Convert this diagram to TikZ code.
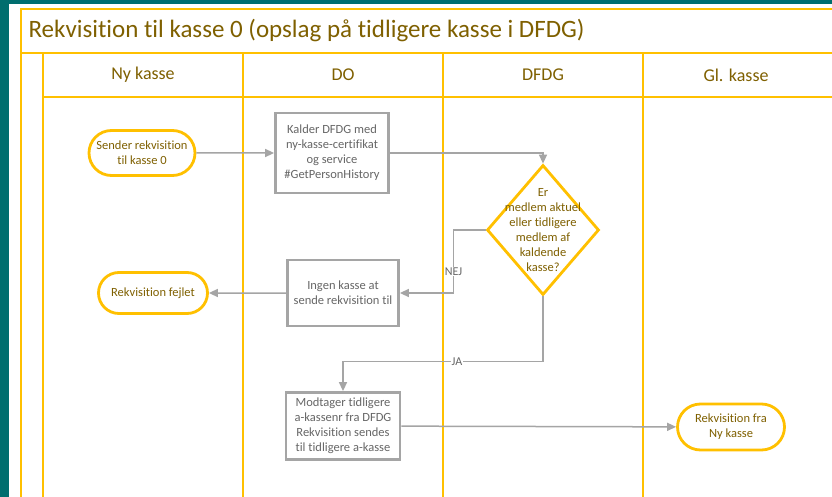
\documentclass[tikz,border=0pt]{standalone}
\usepackage{fontspec}
\setmainfont{Carlito}[Ligatures={NoCommon}]
\usetikzlibrary{arrows.meta,shapes.geometric,shapes.misc}
\usetikzlibrary{calc,positioning}

\definecolor{lane}{HTML}{FFC000}
\definecolor{goldtext}{HTML}{7F6000}
\definecolor{flowgray}{HTML}{A5A5A5}
\definecolor{boxtext}{HTML}{666666}
\definecolor{slideteal}{HTML}{006E6E}

\begin{document}
\begin{tikzpicture}[
    x=1pt, y=-1pt,
    lanes/.style={draw=lane, line width=2.5pt},
    terminal/.style={rounded rectangle, draw=lane, line width=2.8pt, fill=white,
        text=goldtext, align=center, font=\fontsize{12.5}{15}\selectfont, inner sep=2pt},
    task/.style={rectangle, draw=flowgray, line width=2.8pt, fill=white,
        text=boxtext, align=center, font=\fontsize{12.5}{15}\selectfont, inner sep=2pt},
    query/.style={diamond, draw=lane, line width=2.8pt, fill=white,
        minimum width=112pt, minimum height=130pt, inner sep=0pt},
    flow/.style={draw=flowgray, line width=1.5pt, -{Triangle[length=9pt,width=8pt]}},
    tag/.style={fill=white, text=boxtext, inner sep=1pt, font=\fontsize{12}{14}\selectfont},
 ]
    \useasboundingbox (0,0) rectangle (832,497);
    \fill[slideteal] (0,0) rectangle (832,497);
    \fill[white] (9,4) rectangle (832,497);

    % pool and lanes
    \draw[lanes] (832,9) -- (21,9) -- (21,497);
    \draw[lanes] (21,53) -- (832,53);
    \draw[lanes] (43,53) -- (43,497);
    \draw[lanes] (43,97) -- (832,97);
    \foreach \x in {243,443,643}
        \draw[lanes] (\x,53) -- (\x,497);
    \node[anchor=west, text=goldtext, font=\fontsize{25}{29}\selectfont] (title) at (25,31)
        {Rekvisition til kasse 0 (opslag på tidligere kasse i DFDG)};
    \foreach \x/\lname/\ltext in {143/nykasse/Ny kasse, 343/do/DO, 543/dfdg/DFDG, 736/glkasse/Gl. kasse}
        \node[text=goldtext, font=\fontsize{18}{21}\selectfont] (\lname) at (\x,75) {\ltext};

    % steps
    \node[terminal, minimum width=110pt, minimum height=45pt] (sender) at (142,153)
        {Sender rekvisition\\til kasse 0};
    \node[task, minimum width=113pt, minimum height=80pt] (kalder) at (332,153)
        {Kalder DFDG med\\ny-kasse-certifikat\\og service\\\#GetPersonHistory};
    \node[query, label={[text=goldtext, align=center, font=\fontsize{12.5}{15}\selectfont]center:Er\\medlem aktuel\\eller tidligere\\medlem af\\kaldende\\kasse?}] (medlem) at (543,230) {};
    \node[task, minimum width=111pt, minimum height=66pt] (ingen) at (343,293)
        {Ingen kasse at\\sende rekvisition til};
    \node[terminal, minimum width=113pt, minimum height=41pt] (fejlet) at (153,293)
        {Rekvisition fejlet};
    \node[task, minimum width=114pt, minimum height=67pt] (modtager) at (343,426)
        {Modtager tidligere\\a-kassenr fra DFDG\\Rekvisition sendes\\til tidligere a-kasse};
    \node[terminal, minimum width=111pt, minimum height=46pt] (frany) at (731,427)
        {Rekvisition fra\\Ny kasse};

    % connectors
    \draw[flow] (sender) -- (kalder);
    \draw[flow] (kalder.east) -| (medlem.north);
    \draw[flow] (medlem.west) -- ++(-32,0) |- node[tag, pos=0.33] {NEJ} (ingen.east);
    \draw[flow] (ingen) -- (fejlet);
    \draw[flow] (medlem.south) -- ++(0,65) -| node[tag, pos=0.215] {JA} (modtager.north);
    \draw[flow] (modtager) -- (frany);

\end{tikzpicture}
\end{document}
